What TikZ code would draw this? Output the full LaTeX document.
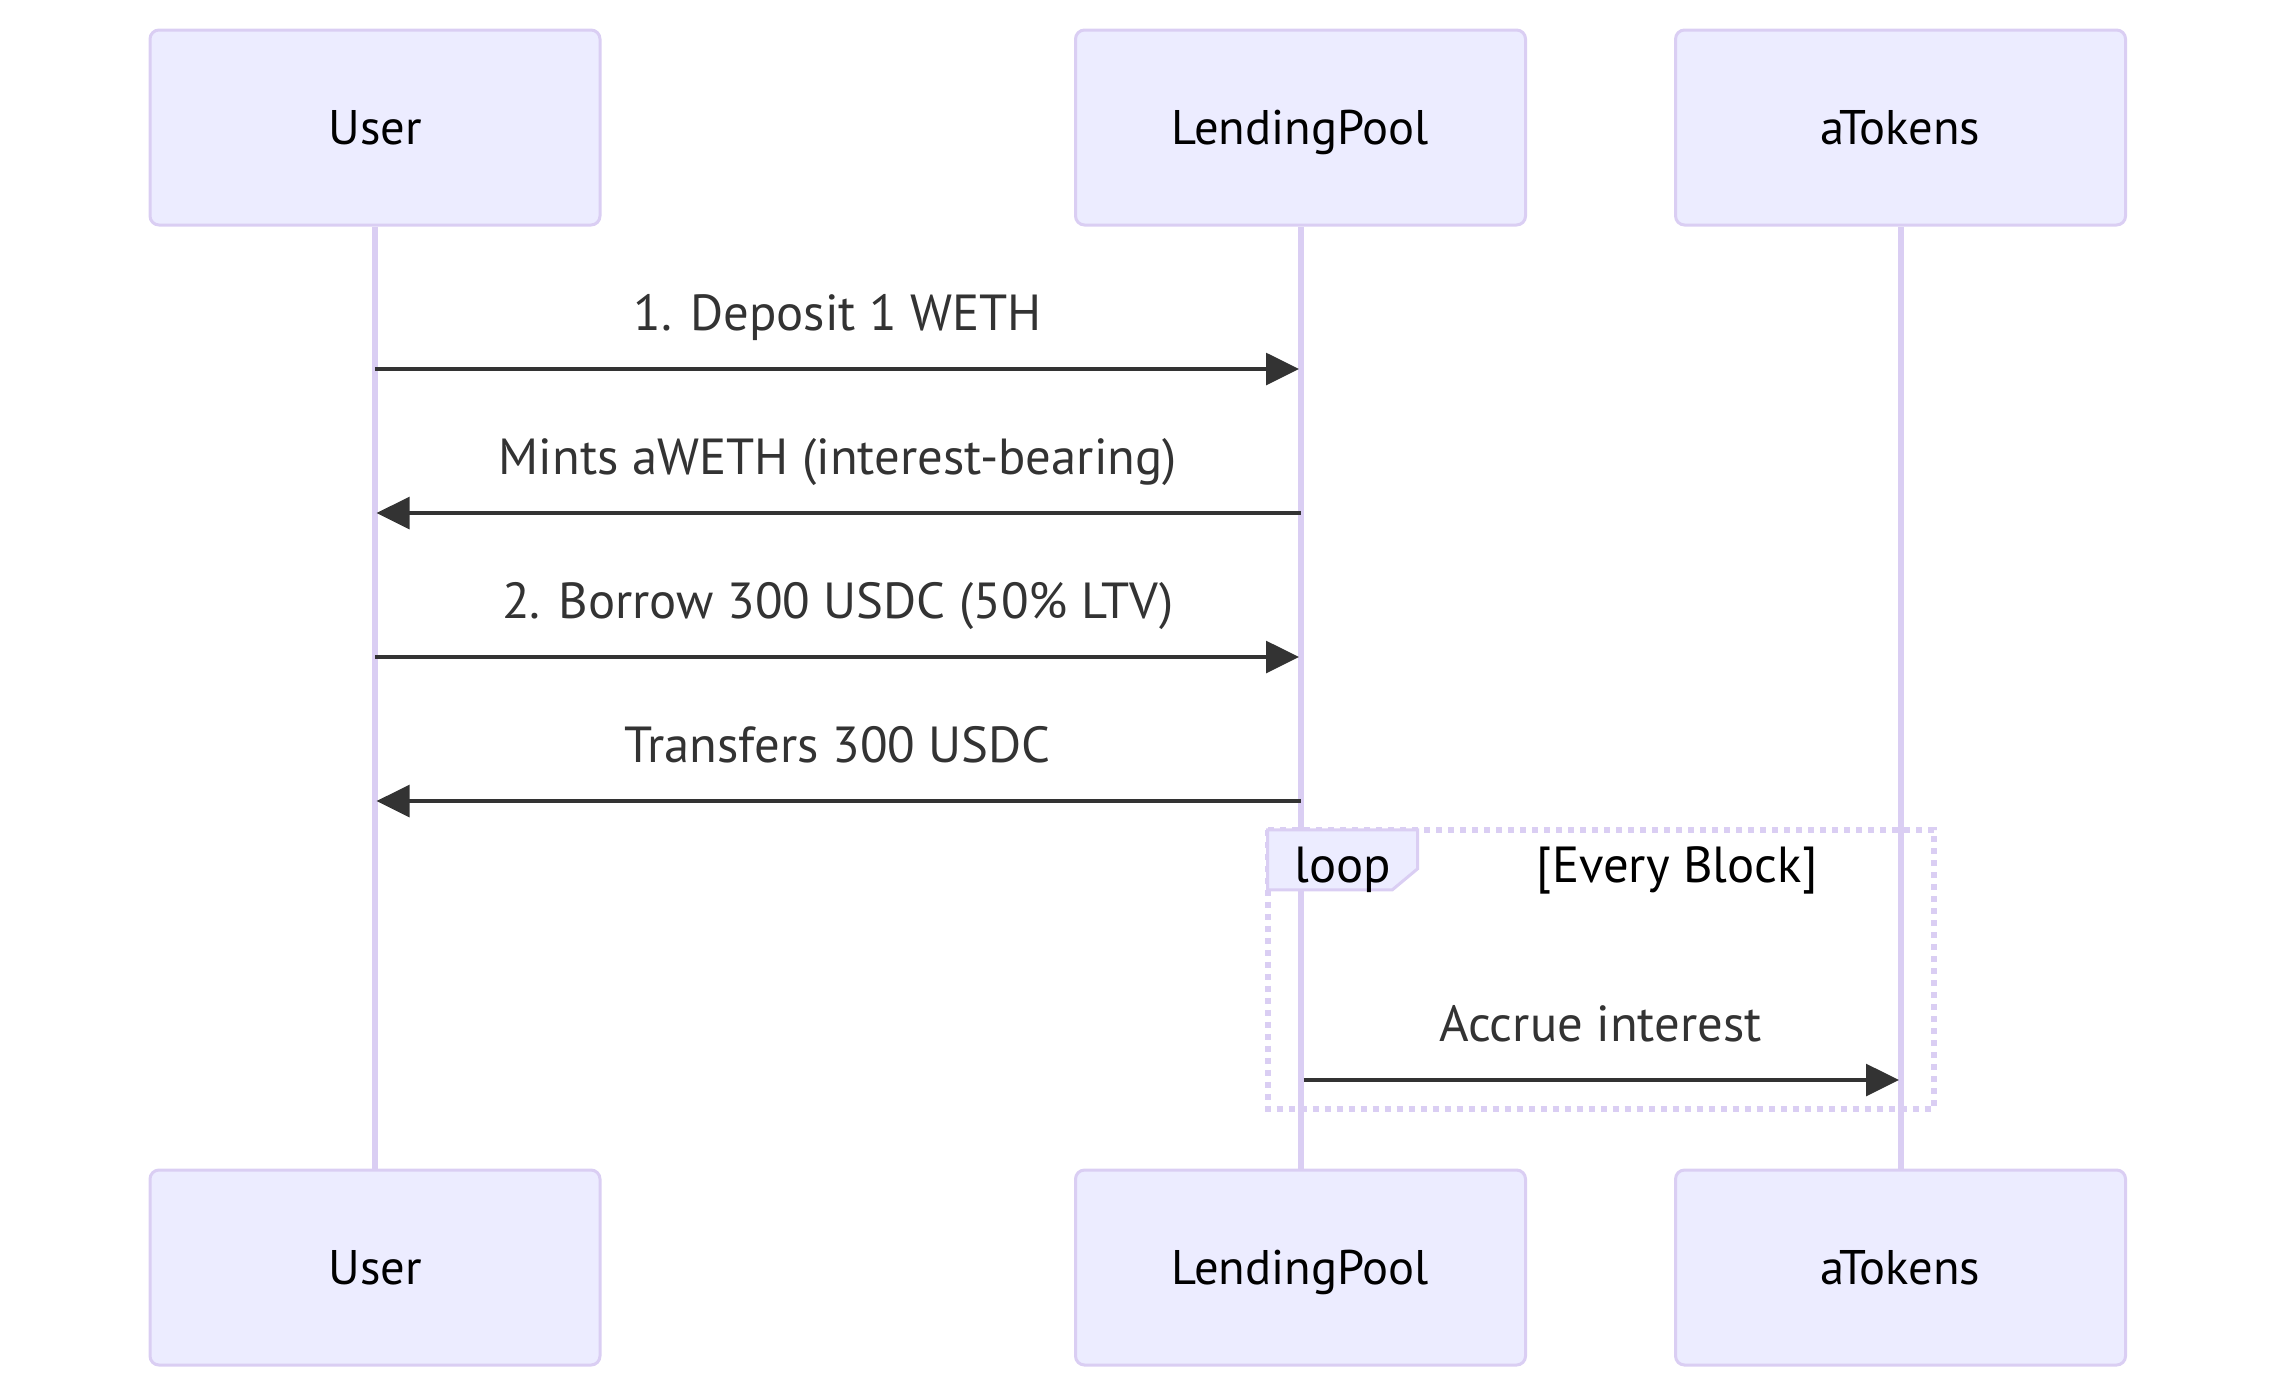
\documentclass[tikz,border=0pt]{standalone}
\usepackage{fontspec}
\setmainfont{PT Sans}
\usetikzlibrary{arrows.meta}
\definecolor{actfill}{HTML}{ECECFF}
\definecolor{actline}{HTML}{DACEF3}
\definecolor{msg}{HTML}{333333}
\begin{document}
\begin{tikzpicture}[x=1pt,y=-1pt,
 actor/.style={draw=actline, line width=1pt, fill=actfill, rounded corners=3pt, minimum width=150pt, minimum height=65pt, inner sep=0pt, text height=11.4pt, text depth=0pt, font=\fontsize{16.2}{19}\selectfont, text=black},
 lifeline/.style={draw=actline, line width=2pt},
 msgline/.style={draw=msg, line width=1.5pt, -{Triangle[length=11pt,width=10.5pt]}},
 msglabel/.style={anchor=base, text=msg, font=\fontsize{16.9}{20}\selectfont, inner sep=0pt},
 looptext/.style={anchor=base, text=black, font=\fontsize{16.9}{20}\selectfont, inner sep=0pt},
 loopline/.style={draw=actline, line width=2pt, dash pattern=on 2pt off 2pt},
 labelbox/.style={draw=actline, line width=1pt, fill=actfill},
]
\useasboundingbox (0,0) rectangle (759,466);
% actors
\node[actor] (ut) at (125,42.5) {User};
\node[actor] (lt) at (433.5,42.5) {LendingPool};
\node[actor] (at) at (633.5,42.5) {aTokens};
\node[actor] (ub) at (125,422.5) {User};
\node[actor] (lb) at (433.5,422.5) {LendingPool};
\node[actor] (ab) at (633.5,422.5) {aTokens};
% lifelines
\draw[lifeline] (ut.south) -- (ub.north);
\draw[lifeline] (lt.south) -- (lb.north);
\draw[lifeline] (at.south) -- (ab.north);
% loop frame
\draw[loopline] (422.5,276.6) rectangle (644.5,369.6);
\draw[labelbox] (422.5,276.6) -- (472.5,276.6) -- (472.5,289.6) -- (464.1,296.6) -- (422.5,296.6) -- cycle;
\node[looptext] (looplbl) at (447.5,294) {loop};
\node[looptext] (loopcond) at (559,294.3) {[Every Block]};
% message anchors
\coordinate (u1) at (125,123);   \coordinate (l1) at (433,123);
\coordinate (l2) at (433.5,171); \coordinate (u2) at (125.5,171);
\coordinate (u3) at (125,219);   \coordinate (l3) at (433,219);
\coordinate (l4) at (433.5,267); \coordinate (u4) at (125.5,267);
\coordinate (l5) at (434.5,360); \coordinate (a5) at (633,360);
% messages
\draw[msgline] (u1) -- (l1);
\node[msglabel] (m1) at (279.25,110.2) {1. Deposit 1 WETH};
\draw[msgline] (l2) -- (u2);
\node[msglabel] (m2) at (279.25,158.2) {Mints aWETH (interest-bearing)};
\draw[msgline] (u3) -- (l3);
\node[msglabel] (m3) at (279.25,206.2) {2. Borrow 300 USDC (50\% LTV)};
\draw[msgline] (l4) -- (u4);
\node[msglabel] (m4) at (279.25,254.2) {Transfers 300 USDC};
\draw[msgline] (l5) -- (a5);
\node[msglabel] (m5) at (533.5,347.2) {Accrue interest};
\end{tikzpicture}
\end{document}
